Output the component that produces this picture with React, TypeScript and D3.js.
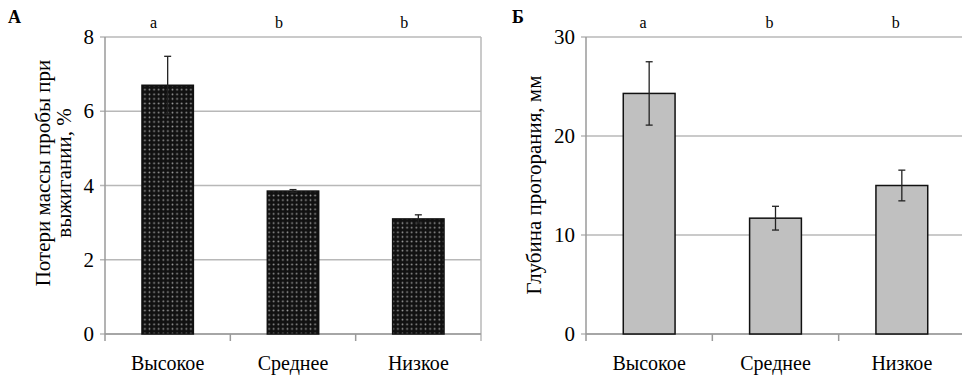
import React from 'react';
import * as d3 from 'd3';

const categories = ['Высокое', 'Среднее', 'Низкое'];
const letters = ['a', 'b', 'b'];

// панель А — потери массы
const lossValues = [6.7, 3.85, 3.1];
const lossErrors = [0.78, 0.04, 0.11];
const lossTicks = [0, 2, 4, 6, 8];

// панель Б — глубина прогорания
const depthValues = [24.3, 11.7, 15.0];
const depthErrors = [3.2, 1.2, 1.55];
const depthTicks = [0, 10, 20, 30];

const font = 'Liberation Serif';
const gridColor = '#b8b8b8';

type PanelProps = {
  left: number;
  right: number;
  values: number[];
  errors: number[];
  ticks: number[];
  max: number;
  fill: string;
  stroke: string;
  label: string;
  titleLines: string[];
  titleX: number[];
  titleY: number;
  labelX: number;
  letterShift: number;
  frame: boolean;
};

function Panel(p: PanelProps) {
  const top = 37;
  const bottom = 334;
  const x = d3.scaleBand<string>().domain(categories).range([p.left, p.right]);
  const y = d3.scaleLinear().domain([0, p.max]).range([bottom, top]);
  const barW = x.bandwidth() * 0.41;

  return (
    <g>
      <text x={p.labelX} y={23} fontFamily={font} fontWeight="bold" fontSize={18}>
        {p.label}
      </text>

      {/* сетка */}
      {p.ticks.map((t) => (
        <line key={t} x1={p.left - 5} x2={p.right} y1={y(t)} y2={y(t)} stroke={gridColor} strokeWidth={1.5} />
      ))}
      {p.frame && <line x1={p.right} x2={p.right} y1={top} y2={bottom + 7} stroke={gridColor} strokeWidth={1.5} />}
      <line x1={p.left} x2={p.left} y1={top} y2={bottom + 7} stroke="#9a9a9a" strokeWidth={1.5} />
      <line x1={p.left} x2={p.right} y1={bottom} y2={bottom} stroke="#9a9a9a" strokeWidth={1.5} />
      {categories.slice(1).map((c) => (
        <line key={c} x1={x(c)!} x2={x(c)!} y1={bottom} y2={bottom + 7} stroke="#9a9a9a" strokeWidth={1.5} />
      ))}

      {/* подписи оси Y */}
      {p.ticks.map((t) => (
        <text key={t} x={p.left - 11} y={y(t) + 7} textAnchor="end" fontFamily={font} fontSize={21}>
          {t}
        </text>
      ))}

      {/* столбцы */}
      {categories.map((c, i) => {
        const cx = x(c)! + x.bandwidth() / 2;
        return (
          <g key={c}>
            <rect
              x={cx - barW / 2}
              y={y(p.values[i])}
              width={barW}
              height={bottom - y(p.values[i])}
              fill={p.fill}
              stroke={p.stroke}
              strokeWidth={1.5}
            />
            <line x1={cx} x2={cx} y1={y(p.values[i] + p.errors[i])} y2={y(p.values[i] - p.errors[i])} stroke="#222" strokeWidth={1.3} />
            <line x1={cx - 3.5} x2={cx + 3.5} y1={y(p.values[i] + p.errors[i])} y2={y(p.values[i] + p.errors[i])} stroke="#222" strokeWidth={1.3} />
            <line x1={cx - 3.5} x2={cx + 3.5} y1={y(p.values[i] - p.errors[i])} y2={y(p.values[i] - p.errors[i])} stroke="#222" strokeWidth={1.3} />
            <text x={cx} y={370} textAnchor="middle" fontFamily={font} fontSize={20}>
              {c}
            </text>
            <text x={cx + p.letterShift} y={28} textAnchor="middle" fontFamily={font} fontSize={16}>
              {letters[i]}
            </text>
          </g>
        );
      })}

      {/* заголовок оси Y */}
      {p.titleLines.map((line, k) => (
        <text
          key={k}
          transform={`translate(${p.titleX[k]},${p.titleY}) rotate(-90)`}
          textAnchor="middle"
          fontFamily={font}
          fontSize={21}
        >
          {line}
        </text>
      ))}
    </g>
  );
}

export default function App() {
  return (
    <svg width={962} height={379} style={{ position: 'absolute', left: 0, top: 0, background: '#fff' }}>
      <defs>
        <pattern id="dots" width={4.6} height={4.6} patternUnits="userSpaceOnUse">
          <rect width={4.6} height={4.6} fill="#111" />
          <circle cx={2.3} cy={2.3} r={0.9} fill="#9a9a9a" />
        </pattern>
      </defs>
      <Panel
        left={105}
        right={481}
        values={lossValues}
        errors={lossErrors}
        ticks={lossTicks}
        max={8}
        fill="url(#dots)"
        stroke="#111"
        label="А"
        titleLines={['Потери массы пробы при', 'выжигании, %']}
        titleX={[50, 71]}
        titleY={173}
        labelX={8}
        letterShift={-14}
        frame={true}
      />
      <Panel
        left={586}
        right={965}
        values={depthValues}
        errors={depthErrors}
        ticks={depthTicks}
        max={30}
        fill="#c0c0c0"
        stroke="#111"
        label="Б"
        titleLines={['Глубина прогорания, мм']}
        titleX={[541]}
        titleY={185}
        labelX={512}
        letterShift={-6}
        frame={false}
      />
    </svg>
  );
}
